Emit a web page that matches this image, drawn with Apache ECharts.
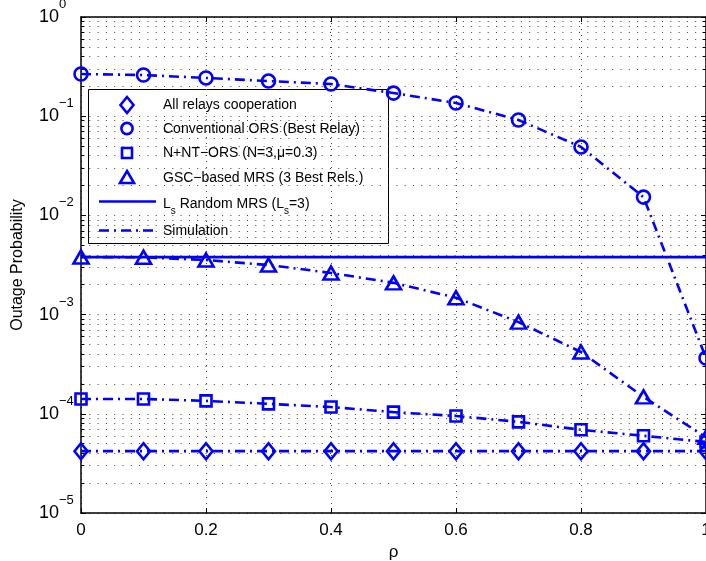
<!DOCTYPE html>
<html>
<head>
<meta charset="utf-8">
<script src="https://cdn.jsdelivr.net/npm/echarts@6/dist/echarts.min.js"></script>
<style>
html,body{margin:0;padding:0;background:#fff;}
#chart{width:706px;height:561px;}
</style>
</head>
<body>
<div id="chart"></div>
<script>
// ---- data ----
var rho = [0, 0.1, 0.2, 0.3, 0.4, 0.5, 0.6, 0.7, 0.8, 0.9, 1.0];
var allRelays = [4.2e-5, 4.2e-5, 4.2e-5, 4.2e-5, 4.2e-5, 4.2e-5, 4.2e-5, 4.2e-5, 4.2e-5, 4.2e-5, 4.2e-5];
var convORS = [0.266, 0.26, 0.243, 0.226, 0.211, 0.171, 0.136, 0.0916, 0.049, 0.0153, 3.65e-4];
var nntORS = [1.41e-4, 1.41e-4, 1.35e-4, 1.26e-4, 1.17e-4, 1.04e-4, 9.5e-5, 8.3e-5, 6.9e-5, 6.0e-5, 5.2e-5];
var gscMRS = [3.81e-3, 3.78e-3, 3.55e-3, 3.16e-3, 2.63e-3, 2.09e-3, 1.48e-3, 8.4e-4, 4.2e-4, 1.48e-4, 5.8e-5];
var lsRandom = [3.8e-3, 3.8e-3, 3.8e-3, 3.8e-3, 3.8e-3, 3.8e-3, 3.8e-3, 3.8e-3, 3.8e-3, 3.8e-3, 3.8e-3];
var xTicks = [0, 0.2, 0.4, 0.6, 0.8, 1];
var legendNames = ['All relays cooperation', 'Conventional ORS (Best Relay)', 'N+NT\u2212ORS (N=3,\u03bc=0.3)', 'GSC\u2212based MRS (3 Best Rels.)', 'L_s Random MRS (L_s=3)', 'Simulation'];

var BLUE = '#0000ff';
var FONT = 'Liberation Sans, Arial, Helvetica, sans-serif';

function pairs(ys) { return rho.map(function (x, i) { return [x, ys[i]]; }); }

// minor log grid values
var minorVals = [];
for (var d = -5; d <= -1; d++) {
  for (var m = 2; m <= 9; m++) minorVals.push(m * Math.pow(10, d));
}

var dotStyle = { color: '#444', width: 1, type: [1, 7.3] };
var gridLines = [];
minorVals.forEach(function (v) {
  gridLines.push([{ coord: [0, v], lineStyle: dotStyle }, { coord: [1, v] }]);
});
var tickLines = [];
minorVals.forEach(function (v) {
  tickLines.push([{ coord: [0, v] }, { coord: [0.0055, v] }]);
  tickLines.push([{ coord: [0.9945, v] }, { coord: [1, v] }]);
});

var dashDot = [10, 5, 2, 5];
var LW = 2.6;

function markerSeries(name, data, symbol, size) {
  return {
    name: name, type: 'scatter', data: pairs(data), symbol: symbol, symbolSize: size,
    z: 5, clip: false,
    itemStyle: { color: 'rgba(0,0,0,0)', borderColor: BLUE, borderWidth: LW, opacity: 1 }
  };
}
function simSeries(data) {
  return {
    name: 'Simulation', type: 'line', data: pairs(data), showSymbol: false, symbol: 'none', z: 4,
    lineStyle: { color: BLUE, width: LW, type: dashDot }
  };
}

var chart = echarts.init(document.getElementById('chart'));
var option = {
  animation: false,
  backgroundColor: '#fff',
  grid: { left: 81, top: 17, right: 0, bottom: 48, show: false, containLabel: false, outerBoundsMode: 'none' },
  xAxis: [{
    type: 'value', min: 0, max: 1, interval: 0.2, position: 'bottom',
    name: '\u03c1', nameLocation: 'middle', nameGap: 28,
    nameTextStyle: { fontSize: 17, color: '#000', fontFamily: FONT },
    axisLine: { show: true, onZero: false, lineStyle: { color: '#000', width: 1.5 } },
    axisTick: { show: true, inside: true, length: 5, lineStyle: { color: '#000' } },
    axisLabel: { fontSize: 17, color: '#000', fontFamily: FONT, margin: 9, hideOverlap: false,
      formatter: function (v) { return xTicks.indexOf(+v.toFixed(1)) >= 0 ? String(+v.toFixed(1)) : ''; } },
    splitLine: { show: true, lineStyle: { color: '#444', width: 1, type: [1, 5] } }
  }, {
    type: 'value', min: 0, max: 1, interval: 0.2, position: 'top',
    axisLine: { show: true, onZero: false, lineStyle: { color: '#000', width: 1.5 } },
    axisTick: { show: true, inside: true, length: 5, lineStyle: { color: '#000' } },
    axisLabel: { show: false }, splitLine: { show: false }
  }],
  yAxis: [{
    type: 'log', logBase: 10, min: 1e-5, max: 1, position: 'left',
    name: 'Outage Probability', nameLocation: 'middle', nameGap: 55,
    nameTextStyle: { fontSize: 16, color: '#000', fontFamily: FONT },
    axisLine: { show: true, onZero: false, lineStyle: { color: '#000', width: 1.5 } },
    axisTick: { show: true, inside: true, length: 5, lineStyle: { color: '#000' } },
    axisLabel: {
      align: 'left', margin: 42, color: '#000', fontFamily: FONT,
      formatter: function (v) {
        var e = Math.round(Math.log10(v));
        return '{b|10}{s|' + (e === 0 ? '0' : '\u2212' + (-e)) + '}';
      },
      rich: {
        b: { fontSize: 18, lineHeight: 18, fontFamily: FONT, color: '#000', verticalAlign: 'bottom' },
        s: { fontSize: 13, lineHeight: 13, fontFamily: FONT, color: '#000', verticalAlign: 'bottom', padding: [0, 0, 15, 0] }
      }
    },
    splitLine: { show: true, lineStyle: dotStyle }
  }, {
    type: 'log', logBase: 10, min: 1e-5, max: 1, position: 'right',
    axisLine: { show: true, onZero: false, lineStyle: { color: '#000', width: 1.5 } },
    axisTick: { show: true, inside: true, length: 5, lineStyle: { color: '#000' } },
    axisLabel: { show: false }, splitLine: { show: false }
  }],
  series: [
    {
      name: 'grid', type: 'line', data: [], z: 1, silent: true,
      markLine: { silent: true, symbol: ['none', 'none'], label: { show: false }, animation: false,
        lineStyle: dotStyle, data: gridLines }
    },
    {
      name: 'ticks', type: 'line', data: [], z: 2, silent: true,
      markLine: { silent: true, symbol: ['none', 'none'], label: { show: false }, animation: false,
        lineStyle: { color: '#000', width: 1, type: 'solid' }, data: tickLines }
    },
    {
      name: 'L_s Random MRS', type: 'line', data: pairs(lsRandom), showSymbol: false, symbol: 'none', z: 4,
      lineStyle: { color: BLUE, width: LW, type: 'solid' }
    },
    simSeries(allRelays), simSeries(convORS), simSeries(nntORS), simSeries(gscMRS),
    markerSeries('All relays cooperation', allRelays, 'diamond', [13, 16]),
    markerSeries('Conventional ORS (Best Relay)', convORS, 'circle', 13),
    markerSeries('N+NT-ORS', nntORS, 'rect', 11),
    markerSeries('GSC-based MRS', gscMRS, 'triangle', [15, 13])
  ],
  graphic: [
    { type: 'group', z: 100, children: [
      { type: 'rect', shape: { x: 88.5, y: 89.5, width: 300, height: 154 },
        style: { fill: '#fff', stroke: '#000', lineWidth: 1 } },
      // markers
      { type: 'polygon', shape: { points: [[127, 97], [133.5, 105], [127, 113], [120.5, 105]] },
        style: { fill: 'none', stroke: BLUE, lineWidth: LW } },
      { type: 'circle', shape: { cx: 127, cy: 128.5, r: 5.6 },
        style: { fill: 'none', stroke: BLUE, lineWidth: LW } },
      { type: 'rect', shape: { x: 122, y: 148, width: 10, height: 10 },
        style: { fill: 'none', stroke: BLUE, lineWidth: LW } },
      { type: 'polygon', shape: { points: [[127, 171], [134, 183], [120, 183]] },
        style: { fill: 'none', stroke: BLUE, lineWidth: LW } },
      { type: 'line', shape: { x1: 99, y1: 201.5, x2: 156, y2: 201.5 },
        style: { stroke: BLUE, lineWidth: LW } },
      { type: 'line', shape: { x1: 99, y1: 230.5, x2: 156, y2: 230.5 },
        style: { stroke: BLUE, lineWidth: LW, lineDash: [10, 5, 2, 5] } },
      // texts
      { type: 'text', x: 163, y: 105, style: { text: legendNames[0], font: '14px ' + FONT, fill: '#000', verticalAlign: 'middle' } },
      { type: 'text', x: 163, y: 129, style: { text: legendNames[1], font: '14px ' + FONT, fill: '#000', verticalAlign: 'middle' } },
      { type: 'text', x: 163, y: 153, style: { text: legendNames[2], font: '14px ' + FONT, fill: '#000', verticalAlign: 'middle' } },
      { type: 'text', x: 163, y: 178, style: { text: legendNames[3], font: '14px ' + FONT, fill: '#000', verticalAlign: 'middle' } },
      { type: 'text', x: 163, y: 204, style: {
          text: '{n|L}{s|s}{n| Random MRS (L}{s|s}{n|=3)}', verticalAlign: 'middle',
          rich: {
            n: { fontSize: 14, lineHeight: 14, fontFamily: FONT, fill: '#000', verticalAlign: 'top' },
            s: { fontSize: 10, lineHeight: 10, fontFamily: FONT, fill: '#000', verticalAlign: 'top', padding: [9, 0, 0, 0] }
          } } },
      { type: 'text', x: 163, y: 231, style: { text: legendNames[5], font: '14px ' + FONT, fill: '#000', verticalAlign: 'middle' } }
    ] }
  ]
};
chart.setOption(option);
</script>
</body>
</html>
